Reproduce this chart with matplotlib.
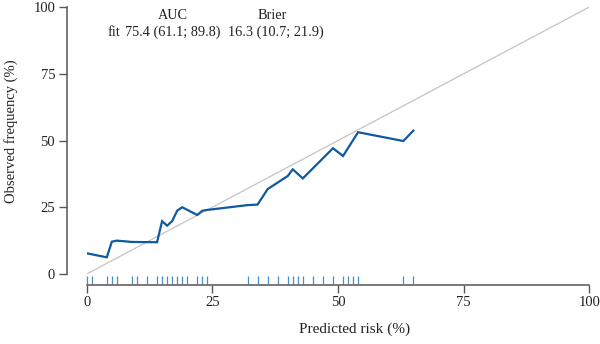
import matplotlib
matplotlib.use("Agg")
import matplotlib.pyplot as plt

# Calibration curve (predicted risk %, observed frequency %)
pred = [0, 4, 5, 6, 9, 14, 15, 16, 17, 18, 19, 22, 23, 24, 32, 34, 36, 40, 41, 43, 49, 51, 54, 63, 65]
obs = [7.75, 6.25, 12.1, 12.5, 12.0, 11.9, 19.8, 18.1, 19.8, 23.7, 25.0, 22.1, 23.7, 24.0,
       25.8, 26.0, 31.8, 36.7, 39.2, 35.8, 47.1, 44.2, 53.1, 49.8, 53.7]

# Rug of predicted risks
rug = [0, 1, 4, 5, 6, 9, 10, 12, 14, 15, 16, 17, 18, 19, 20, 22, 23, 24, 32, 34, 36, 38,
       40, 41, 42, 43, 45, 47, 49, 51, 52, 53, 54, 63, 65]

ticks = [0, 25, 50, 75, 100]
auc_text = "75.4 (61.1; 89.8)"
brier_text = "16.3 (10.7; 21.9)"

plt.rcParams['font.family'] = ['Liberation Serif', 'DejaVu Serif']

W, H = 600, 344
fig = plt.figure(figsize=(W / 100, H / 100), dpi=100)
x0, x1 = 86.7, 589.3
y0, y1 = 274.0, 7.0
ax = fig.add_axes([x0 / W, (H - y0) / H, (x1 - x0) / W, (y0 - y1) / H])
ax.set_xlim(0, 100)
ax.set_ylim(0, 100)
ax.patch.set_visible(False)

# identity line
ax.plot([0, 100], [0, 100], color='#c4c4c4', lw=0.9, zorder=1)
# calibration curve
ax.plot(pred, obs, color='#0f5a9e', lw=1.6, zorder=3, solid_joinstyle='miter')
# rug
ax.vlines(rug, -3.75, -0.75, color='#4a8cc4', lw=0.9, clip_on=False)

spine_col = '#555555'
for s in ['top', 'right']:
    ax.spines[s].set_visible(False)
ax.spines['left'].set_position(('outward', 14.2))
ax.spines['bottom'].set_position(('outward', 7.7))
ax.spines['left'].set_bounds(0, 100)
ax.spines['bottom'].set_bounds(0, 100)
for s in ['left', 'bottom']:
    ax.spines[s].set_color(spine_col)
    ax.spines[s].set_linewidth(1.1)

ax.set_xticks(ticks)
ax.set_yticks(ticks)
ax.set_xticklabels([str(t) for t in ticks])
ax.set_yticklabels([str(t) for t in ticks])
ax.tick_params(axis='both', length=5.5, width=1.0, color=spine_col, labelsize=10.5,
               labelcolor='#222222', pad=3)

ax.set_xlabel('Predicted risk (%)', fontsize=11, color='#222222')
ax.set_ylabel('Observed frequency (%)', fontsize=10.5, color='#222222')
ax.xaxis.set_label_coords(0.533, -0.18)
ax.yaxis.set_label_coords(-0.137, 0.536)

# annotation table
fs = 10.3
ax.text(17.1, 96.8, 'AUC', ha='center', va='center', fontsize=fs, color='#222222')
ax.text(36.9, 96.8, 'Brier', ha='center', va='center', fontsize=fs, color='#222222')
ax.text(4.2, 90.4, 'fit', ha='left', va='center', fontsize=fs, color='#222222')
ax.text(7.7, 90.4, auc_text, ha='left', va='center', fontsize=fs, color='#222222')
ax.text(28.1, 90.4, brier_text, ha='left', va='center', fontsize=fs, color='#222222')

fig.savefig('out.png', dpi=100)
